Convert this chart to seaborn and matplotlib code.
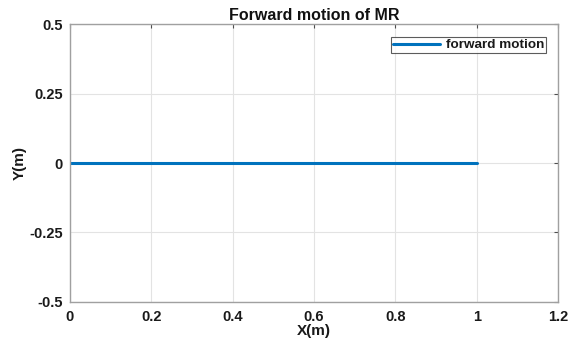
import matplotlib
matplotlib.use("Agg")
import matplotlib.pyplot as plt
import seaborn as sns
import pandas as pd

# Trajectory of the mobile robot moving straight ahead
x_m = [0.0, 0.2, 0.4, 0.6, 0.8, 1.0]
y_m = [0.0, 0.0, 0.0, 0.0, 0.0, 0.0]
x_ticks = [0, 0.2, 0.4, 0.6, 0.8, 1, 1.2]
x_labels = ["0", "0.2", "0.4", "0.6", "0.8", "1", "1.2"]
y_ticks = [-0.5, -0.25, 0, 0.25, 0.5]
y_labels = ["-0.5", "-0.25", "0", "0.25", "0.5"]

sns.set_theme(style="white")
plt.rcParams["font.family"] = ["Liberation Sans", "DejaVu Sans"]
plt.rcParams["font.weight"] = "bold"

df = pd.DataFrame({"X": x_m, "Y": y_m, "label": "forward motion"})

fig = plt.figure(figsize=(5.69, 3.45), dpi=100)
ax = fig.add_axes([0.123, 0.125, 0.858, 0.805])

sns.lineplot(data=df, x="X", y="Y", hue="label", palette=["#0072BD"],
             linewidth=2.2, ax=ax, sort=False)

ax.set_xlim(0, 1.2)
ax.set_ylim(-0.5, 0.5)
ax.set_xticks(x_ticks)
ax.set_xticklabels(x_labels)
ax.set_yticks(y_ticks)
ax.set_yticklabels(y_labels)
ax.grid(True, color="#e3e3e3", linewidth=0.8)
ax.tick_params(direction="in", length=3, width=0.8, color="#4d4d4d",
               labelsize=10.5, labelcolor="#1a1a1a", top=True, right=True)
ax.tick_params(axis="x", pad=6)
ax.tick_params(axis="y", pad=5)
for lab in ax.get_xticklabels() + ax.get_yticklabels():
    lab.set_fontweight("bold")
for s in ax.spines.values():
    s.set_color("#a0a0a0")
    s.set_linewidth(1.0)

ax.set_xlabel("X(m)", fontsize=11, fontweight="bold", labelpad=0, color="#1a1a1a")
ax.set_ylabel("Y(m)", fontsize=11, fontweight="bold", labelpad=2, color="#1a1a1a")
ax.set_title("Forward motion of MR", fontsize=11.5, fontweight="bold", pad=3,
             color="#111111")

leg = ax.legend(loc="upper right", fontsize=9.7, frameon=True, fancybox=False,
                edgecolor="#333333", handlelength=3.5, handletextpad=0.45,
                borderpad=0.12, borderaxespad=0,
                bbox_to_anchor=(0.975, 0.953))
leg.get_frame().set_linewidth(0.8)
for t in leg.get_texts():
    t.set_fontweight("bold")
    t.set_color("#1a1a1a")

fig.savefig("out.png", dpi=100, facecolor="white")
